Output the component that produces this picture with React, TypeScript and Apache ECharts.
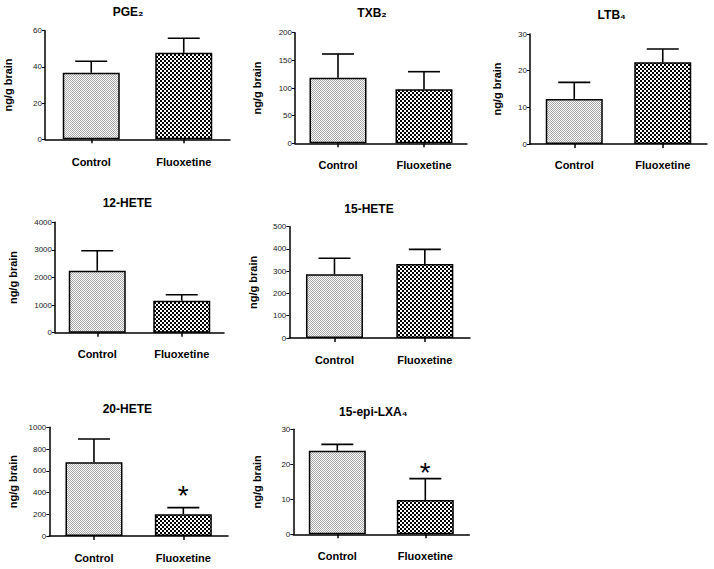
import React, { useEffect, useRef } from 'react';
import * as echarts from 'echarts';

// ---------- data ----------
const categories = ['Control', 'Fluoxetine'];
const yAxisTitle = 'ng/g brain';

const pge2Mean = [36.8, 47.8];
const pge2Sem = [6.3, 8.0];
const txb2Mean = [118.6, 97.6];
const txb2Sem = [42.9, 31.9];
const ltb4Mean = [12.3, 22.3];
const ltb4Sem = [4.5, 3.6];
const hete12Mean = [2246, 1159];
const hete12Sem = [725, 218];
const hete15Mean = [286, 332];
const hete15Sem = [72, 66];
const hete20Mean = [678, 200];
const hete20Sem = [214, 61];
const lxa4Mean = [23.9, 9.8];
const lxa4Sem = [1.8, 6.1];

const hete20Sig = [false, true];
const lxa4Sig = [false, true];
const noSig = [false, false];

const panelTitles = ['PGE₂', 'TXB₂', 'LTB₄', '12-HETE', '15-HETE', '20-HETE', '15-epi-LXA₄'];
const axisMax = [60, 200, 30, 4000, 500, 1000, 30];
const axisInterval = [20, 50, 10, 1000, 100, 200, 10];

const means = [pge2Mean, txb2Mean, ltb4Mean, hete12Mean, hete15Mean, hete20Mean, lxa4Mean];
const sems = [pge2Sem, txb2Sem, ltb4Sem, hete12Sem, hete15Sem, hete20Sem, lxa4Sem];
const sigs = [noSig, noSig, noSig, noSig, noSig, hete20Sig, lxa4Sig];

// ---------- layout ----------
const layout = [
  { left: 45, top: 30.7, width: 185, height: 108.6, titleX: 128, titleY: 12, nameX: 7, labelMargin: 17, starLift: 8 },
  { left: 295, top: 32.7, width: 172, height: 110.6, titleX: 372, titleY: 13, nameX: 256, labelMargin: 16, starLift: 8 },
  { left: 530, top: 34, width: 177, height: 110, titleX: 611.7, titleY: 15, nameX: 496.7, labelMargin: 15, starLift: 8 },
  { left: 55, top: 222.3, width: 169, height: 110.4, titleX: 127.3, titleY: 203.3, nameX: 12, labelMargin: 16, starLift: 8 },
  { left: 289.3, top: 226.7, width: 180.7, height: 111.3, titleX: 369, titleY: 209, nameX: 252, labelMargin: 16.5, starLift: 8 },
  { left: 49.3, top: 427.3, width: 178.7, height: 108.7, titleX: 127.3, titleY: 409.3, nameX: 12, labelMargin: 16, starLift: 12 },
  { left: 293.3, top: 429.3, width: 176, height: 105, titleX: 373.3, titleY: 411.7, nameX: 256, labelMargin: 16, starLift: 6 },
];

const FONT = '"Liberation Sans", Arial, sans-serif';

function makePattern(kind: 'light' | 'dark') {
  const c = document.createElement('canvas');
  if (kind === 'light') {
    c.width = 2;
    c.height = 2;
    const ctx = c.getContext('2d')!;
    ctx.fillStyle = '#ffffff';
    ctx.fillRect(0, 0, 2, 2);
    ctx.fillStyle = '#a8a8a8';
    ctx.fillRect(0, 0, 1, 1);
    ctx.fillRect(1, 1, 1, 1);
  } else {
    c.width = 4;
    c.height = 4;
    const ctx = c.getContext('2d')!;
    ctx.fillStyle = '#ffffff';
    ctx.fillRect(0, 0, 4, 4);
    ctx.fillStyle = '#000000';
    ctx.fillRect(0, 0, 2, 2);
    ctx.fillRect(2, 2, 2, 2);
  }
  return { image: c, repeat: 'repeat' };
}

export default function App() {
  const ref = useRef<HTMLDivElement>(null);

  useEffect(() => {
    document.body.style.margin = '0';
    if (!ref.current) return;
    const chart = echarts.init(ref.current, undefined, { renderer: 'svg' });
    const patterns = [makePattern('light'), makePattern('dark')];

    const grid: any[] = [];
    const xAxis: any[] = [];
    const yAxis: any[] = [];
    const series: any[] = [];
    const graphic: any[] = [];

    means.forEach((mean, i) => {
      const L = layout[i];
      grid.push({ left: L.left, top: L.top, width: L.width, height: L.height, containLabel: false });
      xAxis.push({
        type: 'category',
        gridIndex: i,
        data: categories,
        axisLine: { show: true, lineStyle: { color: '#000', width: 1.5 } },
        axisTick: { show: true, alignWithLabel: true, length: 4, lineStyle: { color: '#000', width: 1.5 } },
        axisLabel: { margin: L.labelMargin, fontFamily: FONT, fontWeight: 'bold', fontSize: 11, color: '#000' },
        splitLine: { show: false },
      });
      yAxis.push({
        type: 'value',
        gridIndex: i,
        min: 0,
        max: axisMax[i],
        interval: axisInterval[i],
        splitLine: { show: false },
        axisLine: { show: true, lineStyle: { color: '#000', width: 1.5 } },
        axisTick: { show: true, length: 3, lineStyle: { color: '#000', width: 1 } },
        axisLabel: { margin: 3, fontFamily: FONT, fontSize: 8, color: '#222', formatter: (v: number) => String(v) },
        name: yAxisTitle,
        nameLocation: 'middle',
        nameRotate: 90,
        nameGap: L.left - L.nameX - 6,
        nameTextStyle: { fontFamily: FONT, fontWeight: 'bold', fontSize: 11, color: '#000' },
      });
      series.push({
        type: 'bar',
        xAxisIndex: i,
        yAxisIndex: i,
        barWidth: 57,
        data: mean.map((v, j) => ({ value: v, itemStyle: { color: patterns[j] } })),
        itemStyle: { borderColor: '#000', borderWidth: 1.5 },
        z: 2,
      });
      series.push({
        type: 'custom',
        xAxisIndex: i,
        yAxisIndex: i,
        z: 3,
        encode: { x: 0, y: 2 },
        data: mean.map((v, j) => [j, v, v + sems[i][j], sigs[i][j] ? 1 : 0]),
        renderItem: (params: any, api: any) => {
          const x = api.value(0);
          const base = api.coord([x, api.value(1)]);
          const top = api.coord([x, api.value(2)]);
          const cap = 16;
          const children: any[] = [
            { type: 'line', shape: { x1: base[0], y1: base[1], x2: top[0], y2: top[1] }, style: { stroke: '#000', lineWidth: 1.6 } },
            { type: 'line', shape: { x1: top[0] - cap, y1: top[1], x2: top[0] + cap, y2: top[1] }, style: { stroke: '#000', lineWidth: 1.6 } },
          ];
          if (api.value(3) === 1) {
            children.push({
              type: 'text',
              x: top[0],
              y: top[1] - L.starLift,
              style: { text: '*', font: `28px ${FONT}`, align: 'center', verticalAlign: 'middle', fill: '#000' },
            });
          }
          return { type: 'group', children };
        },
      });
      graphic.push({
        type: 'text',
        x: L.titleX,
        y: L.titleY,
        style: { text: panelTitles[i], font: `bold 12px ${FONT}`, align: 'center', verticalAlign: 'middle', fill: '#000' },
      });
    });

    chart.setOption({
      animation: false,
      backgroundColor: '#fff',
      grid,
      xAxis,
      yAxis,
      series,
      graphic,
    });

    return () => chart.dispose();
  }, []);

  return <div ref={ref} style={{ width: 714, height: 569 }} />;
}
